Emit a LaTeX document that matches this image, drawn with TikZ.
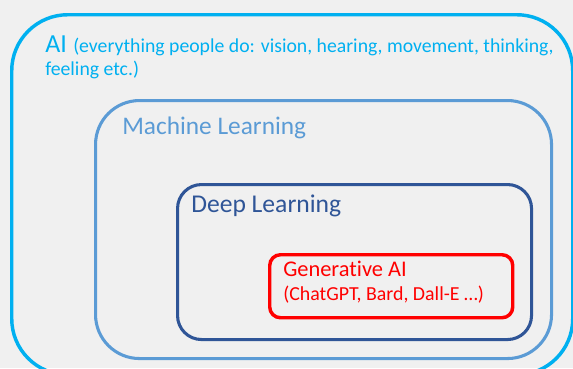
\documentclass[tikz,border=0pt]{standalone}
\usepackage{fontspec}
\setmainfont{Carlito}[Ligatures=NoCommon]
\definecolor{bgc}{HTML}{F0F0F0}
\definecolor{aicol}{HTML}{00B0F0}
\definecolor{mlcol}{HTML}{5B9BD5}
\definecolor{dlcol}{HTML}{2F5597}
\definecolor{gencol}{HTML}{FF0000}
\tikzset{
  layer/.style={draw, rounded corners=#1, inner sep=0pt, anchor=north west},
  lbl/.style={anchor=base west, inner sep=0pt},
}
\begin{document}
\begin{tikzpicture}[x=0.75pt, y=-0.75pt]
\useasboundingbox (0,0) rectangle (573,368);
\fill[bgc] (0,0) rectangle (573,368);
% nested fields, outermost first
\node[layer=42pt, aicol, line width=2.6pt, minimum width=561*0.75pt, minimum height=360*0.75pt] (ai) at (10,13) {};
\node[layer=33pt, mlcol, line width=2.3pt, minimum width=456*0.75pt, minimum height=258*0.75pt] (ml) at (94,99) {};
\node[layer=18pt, dlcol, line width=2.3pt, minimum width=354*0.75pt, minimum height=155*0.75pt] (dl) at (176,183) {};
\node[layer=8pt, gencol, line width=2.6pt, minimum width=243*0.75pt, minimum height=63*0.75pt] (gen) at (268,253) {};
% labels
\node[lbl, aicol] (aiA) at (45,52) {\fontsize{19.5pt}{22pt}\selectfont AI};
\node[lbl, aicol] (aiB) at (73,52) {\fontsize{14.8pt}{17pt}\selectfont (everything people do: vision, hearing, movement, thinking,};
\node[lbl, aicol] (aiC) at (45,75) {\fontsize{14.8pt}{17pt}\selectfont feeling etc.)};
\node[lbl, mlcol] (mlT) at (122,134) {\fontsize{19pt}{22pt}\selectfont Machine Learning};
\node[lbl, dlcol] (dlT) at (191,212) {\fontsize{19.2pt}{22pt}\selectfont Deep Learning};
\node[lbl, gencol] (genT) at (283,276) {\fontsize{16.8pt}{19pt}\selectfont Generative AI};
\node[lbl, gencol] (genS) at (283,300) {\fontsize{14.9pt}{17pt}\selectfont (ChatGPT, Bard, Dall-E …)};
\end{tikzpicture}
\end{document}
